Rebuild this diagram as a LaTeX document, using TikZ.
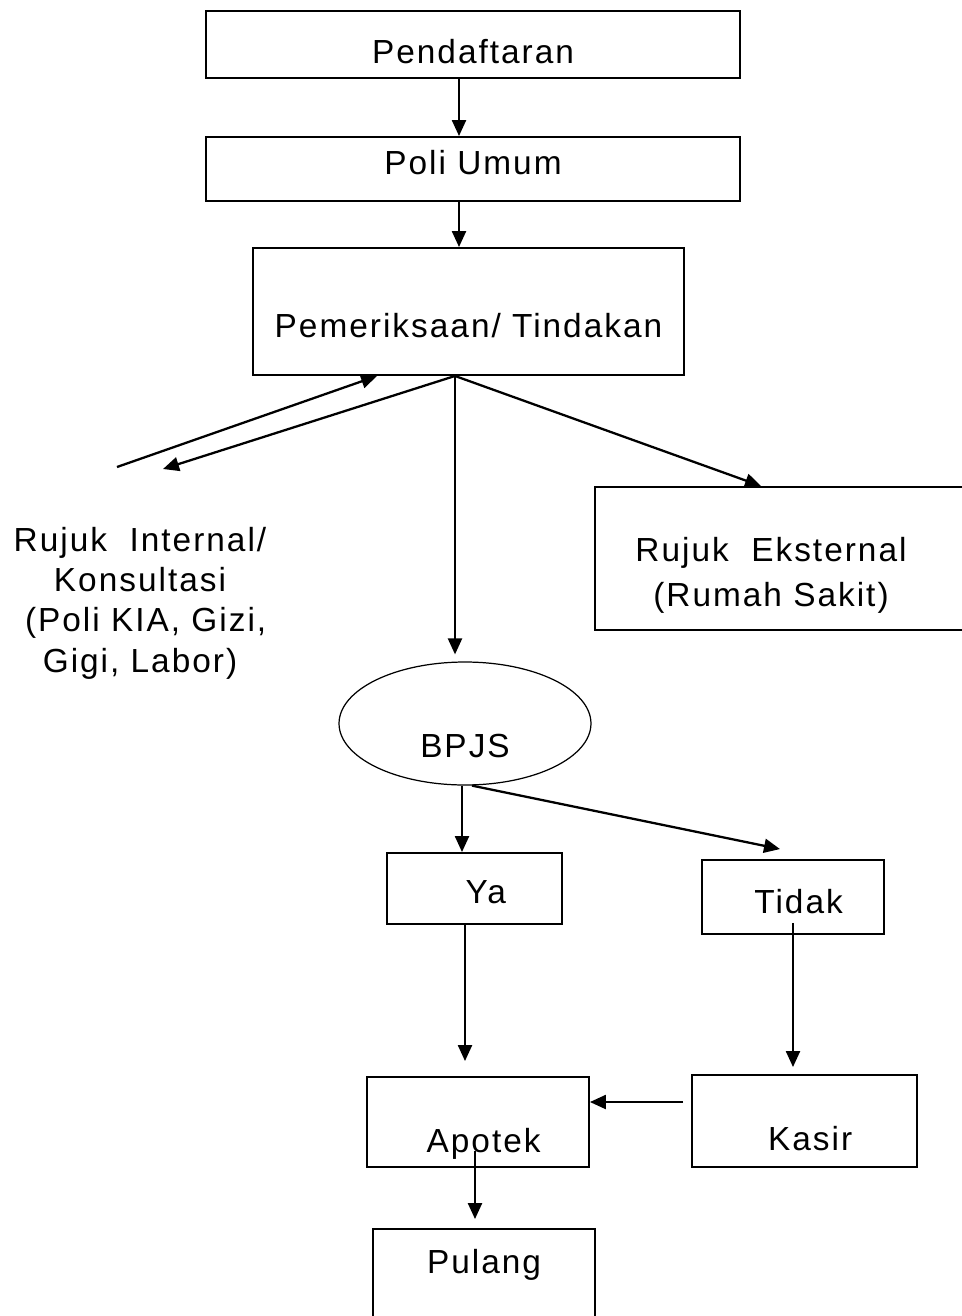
\documentclass[tikz,border=0pt]{standalone}
\usepackage{fontspec}
\setmainfont{Liberation Sans}[LetterSpace=6]
\usetikzlibrary{arrows.meta,shapes.geometric}

\tikzset{
	box/.style={draw,line width=1.1pt,inner sep=0pt,text depth=0pt,font=\fontsize{19}{26}\selectfont},
	lbl/.style={inner sep=0pt,align=center,font=\fontsize{19}{26}\selectfont}
}

\begin{document}
\begin{tikzpicture}[x=0.02cm,y=-0.02cm,>={Triangle[length=0.32cm,width=0.28cm]}]
	\useasboundingbox (0,0) rectangle (962,1316);
	\clip (0,0) rectangle (962,1316);

	\node[box,minimum width=10.68cm,minimum height=1.34cm,text height=0.74cm] (pendaftaran) at (473,44.5) {Pendaftaran};
	\node[box,minimum width=10.68cm,minimum height=1.28cm,text height=0.2cm] (poliumum) at (473,169) {Poli Umum};
	\node[box,minimum width=8.62cm,minimum height=2.54cm,text height=1.02cm] (pemeriksaan) at (468.5,311.5) {Pemeriksaan/ Tindakan};
	\node[box,minimum width=7.5cm,minimum height=2.86cm,
		label={[lbl,xshift=-0.23cm,yshift=-0.34cm]center:{Rujuk~~Eksternal\\(Rumah Sakit)}}] (eksternal) at (782.5,558.5) {};
	\node[lbl,font=\fontsize{19}{23}\selectfont] (internal) at (140,603) {Rujuk~~Internal/\\Konsultasi\\~(Poli KIA, Gizi,\\Gigi, Labor)};
	\node[ellipse,draw,line width=0.7pt,inner sep=0pt,minimum width=5.04cm,minimum height=2.46cm,
		text height=1.34cm,text depth=0pt,font=\fontsize{19}{26}\selectfont] (bpjs) at (465,723.5) {BPJS};
	\node[box,minimum width=3.5cm,minimum height=1.42cm,text height=0.58cm] (ya) at (474.5,888.5) {~~Ya};
	\node[box,minimum width=3.64cm,minimum height=1.48cm,text height=0.64cm] (tidak) at (793,897) {~Tidak};
	\node[box,minimum width=4.44cm,minimum height=1.8cm,text height=1.2cm] (apotek) at (478,1122) {~Apotek};
	\node[box,minimum width=4.5cm,minimum height=1.84cm,text height=1.16cm] (kasir) at (804.5,1121) {~Kasir};
	\node[box,minimum width=4.44cm,minimum height=2.22cm,text height=0pt,text depth=0.46cm] (pulang) at (484,1284.5) {Pulang};

	\coordinate (intout) at (117,467);
	\coordinate (intin) at (163,469);

	\path[->,line width=1.3pt]
	([xshift=-0.28cm]pendaftaran.south) edge ([xshift=-0.28cm]pendaftaran.south |- poliumum.north)
	([xshift=-0.28cm]poliumum.south) edge ([xshift=-0.28cm]poliumum.south |- pemeriksaan.north)

	([xshift=-0.27cm]pemeriksaan.south) edge [shorten >=0.14cm] ([xshift=-0.27cm]pemeriksaan.south |- bpjs.north)
	                                    edge ([xshift=3.34cm]eksternal.north west)
	                                    edge (intin)
	(intout) edge ([xshift=2.5cm]pemeriksaan.south west)

	([xshift=-0.06cm]bpjs.south) edge ([xshift=-0.06cm]bpjs.south |- ya.north)
	([xshift=0.14cm]bpjs.south) edge ([xshift=-0.26cm,yshift=0.2cm]tidak.north)

	([xshift=-0.19cm]ya.south) edge [shorten >=0.3cm] ([xshift=-0.19cm]ya.south |- apotek.north)
	([yshift=0.24cm]tidak.south) edge [shorten >=0.14cm] (tidak.south |- kasir.north)
	([yshift=0.38cm]kasir.west) edge [shorten <=0.16cm] ([yshift=0.38cm]kasir.west -| apotek.east)
	([xshift=-0.06cm,yshift=0.34cm]apotek.south) edge [shorten >=0.18cm] ([xshift=-0.06cm]apotek.south |- pulang.north);
\end{tikzpicture}
\end{document}
